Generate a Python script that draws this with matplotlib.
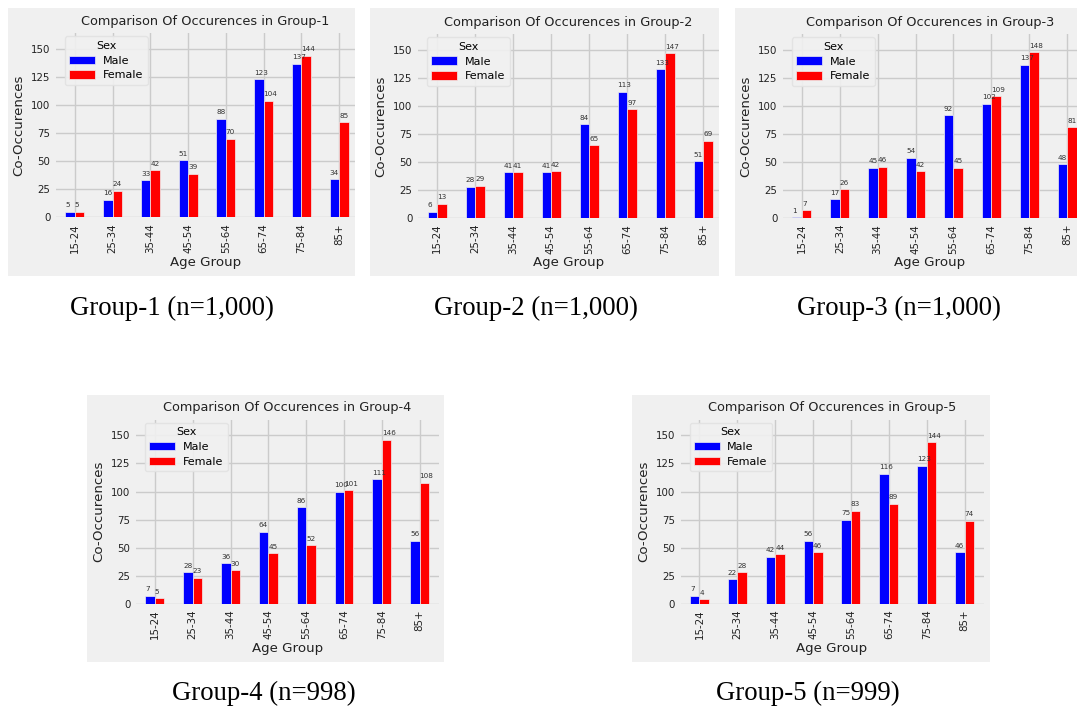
import matplotlib
matplotlib.use("Agg")
import matplotlib.pyplot as plt
from matplotlib.patches import Rectangle
import numpy as np

# ---- data -------------------------------------------------------------
age_groups = ["15-24", "25-34", "35-44", "45-54", "55-64", "65-74", "75-84", "85+"]

group1_male = [5, 16, 33, 51, 88, 123, 137, 34]
group1_female = [5, 24, 42, 39, 70, 104, 144, 85]
group2_male = [6, 28, 41, 41, 84, 113, 133, 51]
group2_female = [13, 29, 41, 42, 65, 97, 147, 69]
group3_male = [1, 17, 45, 54, 92, 102, 137, 48]
group3_female = [7, 26, 46, 42, 45, 109, 148, 81]
group4_male = [7, 28, 36, 64, 86, 100, 111, 56]
group4_female = [5, 23, 30, 45, 52, 101, 146, 108]
group5_male = [7, 22, 42, 56, 75, 116, 123, 46]
group5_female = [4, 28, 44, 46, 83, 89, 144, 74]

group_names = ["Group-1", "Group-2", "Group-3", "Group-4", "Group-5"]
group_sizes = ["1,000", "1,000", "1,000", "998", "999"]
male_counts = [group1_male, group2_male, group3_male, group4_male, group5_male]
female_counts = [group1_female, group2_female, group3_female, group4_female, group5_female]

# ---- layout (pixels) --------------------------------------------------
W, H = 1077, 711
BG = "#f0f0f0"
# panel card: (left, top, right, bottom)
cards = [(8, 8, 355, 276), (370, 8, 719, 276), (735, 8, 1077, 276),
         (87, 395, 444, 662), (632, 395, 990, 662)]
# axes: (left, bottom, full right)
axes_px = [(56, 217.5, 358), (418, 218.3, 722), (783, 218.3, 1086),
           (136, 603.7, 438.5), (680.5, 603.7, 983.5)]
AX_H = 184
YMAX = 164
captions_xy = [(171.5, 308), (535.5, 308), (898.5, 308), (263.5, 693), (807.5, 693)]

fig = plt.figure(figsize=(W / 100, H / 100), dpi=100, facecolor="white")


def fx(x):
    return x / W


def fy(y):
    return 1 - y / H


for i in range(5):
    cl, ct, cr, cb = cards[i]
    fig.patches.append(Rectangle((fx(cl), fy(cb)), fx(cr - cl), (cb - ct) / H,
                                 transform=fig.transFigure, facecolor=BG,
                                 edgecolor="none", zorder=-5))

    al, ab, ar_full = axes_px[i]
    ar = min(ar_full, cr)
    ax_w = ar - al
    ax = fig.add_axes([fx(al), fy(ab), fx(ax_w), AX_H / H])
    ax.set_zorder(2)
    ax.set_facecolor(BG)
    for s in ax.spines.values():
        s.set_visible(False)

    x = np.arange(len(age_groups))
    w = 0.25
    xr = -0.5 + 8 * ax_w / (ar_full - al)
    bars_m = ax.bar(x - w / 2, male_counts[i], width=w, color="blue",
                    edgecolor=BG, linewidth=0.5, label="Male", zorder=2)
    bars_f = ax.bar(x + w / 2, female_counts[i], width=w, color="red",
                    edgecolor=BG, linewidth=0.5, label="Female", zorder=2)

    for bars in (bars_m, bars_f):
        for p in bars:
            ax.annotate(str(int(p.get_height())), (p.get_x(), p.get_height()),
                        xytext=(0, 2.5), textcoords="offset points",
                        ha="left", va="bottom", fontsize=5.2, color="#333333",
                        zorder=3)

    ax.set_xlim(-0.5, xr)
    ax.set_ylim(0, YMAX)
    ax.set_yticks([0, 25, 50, 75, 100, 125, 150])
    ax.set_xticks(x)
    ax.set_xticklabels(age_groups, rotation=90)
    ax.tick_params(axis="both", length=0, labelsize=7.4, colors="#222222", pad=4)
    ax.grid(True, color="#cbcbcb", linewidth=1)
    ax.set_axisbelow(True)

    ax.set_title("Comparison Of Occurences in " + group_names[i],
                 fontsize=9.3, color="#222222", pad=6)
    ax.set_xlabel("Age Group", fontsize=9.6, color="#222222", labelpad=2)
    ax.set_ylabel("Co-Occurences", fontsize=9.6, color="#222222", labelpad=4)

    leg = ax.legend(title="Sex", loc="upper left",
                    bbox_to_anchor=(9 / ax_w, 1 - 3 / AX_H), borderaxespad=0,
                    fontsize=8.0, title_fontsize=8.0, frameon=True,
                    handlelength=2.3, handleheight=0.8, labelspacing=0.42,
                    borderpad=0.4, handletextpad=0.7)
    leg.get_frame().set_facecolor(BG)
    leg.get_frame().set_edgecolor("#e2e2e2")
    leg.get_frame().set_alpha(0.9)

    cx, cy = captions_xy[i]
    fig.text(fx(cx), fy(cy), f"{group_names[i]} (n={group_sizes[i]})",
             ha="center", va="center", fontsize=19.3, family="Liberation Serif",
             color="black")

fig.savefig("out.png", dpi=100, facecolor="white")
